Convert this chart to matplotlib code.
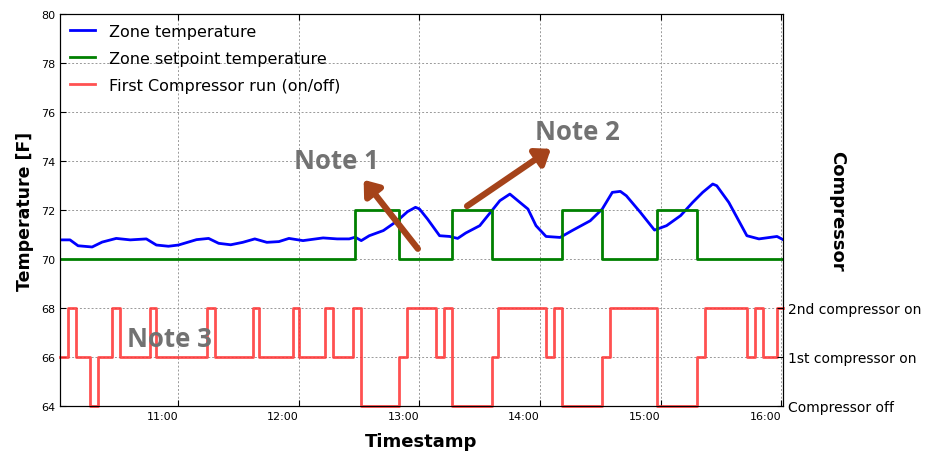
import numpy as np
import pandas as pd
import matplotlib
matplotlib.use("Agg")
import matplotlib.pyplot as plt
import matplotlib.dates as mdates

# ── data ────────────────────────────────────────────────────
DAY = "2016-07-01 "
X_START, X_END = "10:01", "16:01"

zone_times = ["10:01", "10:06", "10:10", "10:17", "10:22", "10:29", "10:36", "10:44",
              "10:49", "10:55", "11:00", "11:09", "11:15", "11:20", "11:26", "11:32",
              "11:38", "11:44", "11:50", "11:55", "12:02", "12:12", "12:19", "12:25",
              "12:28", "12:31", "12:35", "12:42", "12:49", "12:54", "12:58", "13:00",
              "13:04", "13:07", "13:10", "13:15", "13:19", "13:23", "13:30", "13:36",
              "13:40", "13:45", "13:50", "13:54", "13:58", "14:03", "14:10", "14:16",
              "14:25", "14:31", "14:36", "14:40", "14:43", "14:50", "14:57", "15:03",
              "15:10", "15:16", "15:21", "15:26", "15:28", "15:34", "15:43", "15:49",
              "15:58", "16:01"]
zone_temp = [70.78, 70.78, 70.54, 70.49, 70.69, 70.84, 70.78, 70.82,
             70.57, 70.52, 70.57, 70.79, 70.84, 70.64, 70.58, 70.68,
             70.82, 70.68, 70.71, 70.84, 70.75, 70.86, 70.82, 70.82,
             70.89, 70.75, 70.95, 71.16, 71.56, 71.93, 72.11, 72.04,
             71.63, 71.29, 70.95, 70.92, 70.84, 71.06, 71.36, 71.97,
             72.38, 72.65, 72.31, 72.04, 71.36, 70.92, 70.88, 71.16,
             71.56, 72.04, 72.72, 72.76, 72.58, 71.90, 71.18, 71.36,
             71.77, 72.31, 72.72, 73.06, 72.99, 72.31, 70.95, 70.82,
             70.92, 70.79]

setpoint_times = ["10:01", "12:28", "12:50", "13:16", "13:36", "14:11", "14:31",
                  "14:58", "15:18", "16:01"]
setpoint_temp = [70, 72, 70, 72, 70, 72, 70, 72, 70, 70]

comp_times = ["10:01", "10:05", "10:09", "10:16", "10:20", "10:27", "10:31", "10:46",
              "10:49", "11:14", "11:18", "11:37", "11:40", "11:57", "12:00", "12:13",
              "12:17", "12:27", "12:31", "12:50", "12:54", "13:08", "13:12", "13:16",
              "13:36", "13:39", "14:03", "14:07", "14:11", "14:31", "14:35", "14:58",
              "15:18", "15:22", "15:43", "15:47", "15:51", "15:58", "16:01"]
comp_level = [66, 68, 66, 64, 66, 68, 66, 68,
              66, 68, 66, 68, 66, 68, 66, 68,
              66, 68, 64, 66, 68, 66, 68, 64,
              66, 68, 66, 68, 64, 66, 68, 64,
              66, 68, 66, 68, 66, 68, 68]

comp_ticks = [64, 66, 68]
comp_labels = ["Compressor off", "1st compressor on", "2nd compressor on"]


def to_dt(times):
    return pd.to_datetime([DAY + t for t in times])


# ── plot ─────────────────────────────────────────────────────
fig = plt.figure(figsize=(9.27, 4.52), dpi=100)
ax = fig.add_axes([0.0647, 0.0996, 0.78, 0.8672])

ax.plot(to_dt(zone_times), zone_temp, color="blue", lw=2, label="Zone temperature")
ax.step(to_dt(setpoint_times), setpoint_temp, where="post", color="green", lw=2,
        label="Zone setpoint temperature")
ax.step(to_dt(comp_times), comp_level, where="post", color="#ff3333", lw=2, alpha=0.85,
        label="First Compressor run (on/off)", clip_on=False, zorder=3)

ax.set_xlim(to_dt([X_START])[0], to_dt([X_END])[0])
ax.set_ylim(64, 80)
ax.set_yticks(np.arange(64, 81, 2))
ax.xaxis.set_major_locator(mdates.HourLocator())
ax.xaxis.set_major_formatter(mdates.DateFormatter("%H:%M"))
for lbl in ax.get_xticklabels():
    lbl.set_horizontalalignment("right")
ax.tick_params(direction="in", labelsize=8, top=True, right=True, length=4)
ax.grid(True, color="#999999", ls=(0, (2, 2)), lw=0.7)

ax.set_xlabel("Timestamp", fontsize=13, fontweight="bold", labelpad=8)
ax.set_ylabel("Temperature [F]", fontsize=12.5, fontweight="bold", labelpad=5)

leg = ax.legend(loc="upper left", frameon=False, fontsize=11.5, handlelength=1.6,
                handletextpad=0.9, labelspacing=0.75, borderaxespad=0.2)

ax2 = ax.twinx()
ax2.set_ylim(64, 80)
ax2.set_yticks(comp_ticks)
ax2.set_yticklabels(comp_labels)
ax2.tick_params(direction="in", labelsize=10, length=4)
ax2.set_ylabel("Compressor", fontsize=13, fontweight="bold", rotation=270)
ax2.yaxis.set_label_coords(1.087, 0.5)

# notes
note_kw = dict(fontsize=18.5, fontweight="bold", color="#727272", family="Open Sans",
               ha="center", va="center", transform=ax.transAxes)
ax.text(0.382, 0.625, "Note 1", **note_kw)
ax.text(0.716, 0.699, "Note 2", **note_kw)
ax.text(0.152, 0.171, "Note 3", **note_kw)

arrow = dict(arrowstyle="-|>,head_width=0.45,head_length=0.6", lw=4.5,
             color="#a5431a", mutation_scale=14, shrinkA=0, shrinkB=0)
ax.annotate("", xy=(0.420, 0.577), xytext=(0.495, 0.401), xycoords="axes fraction",
            textcoords="axes fraction", arrowprops=arrow)
ax.annotate("", xy=(0.679, 0.656), xytext=(0.563, 0.510), xycoords="axes fraction",
            textcoords="axes fraction", arrowprops=arrow)

fig.savefig("out.png", dpi=100)
